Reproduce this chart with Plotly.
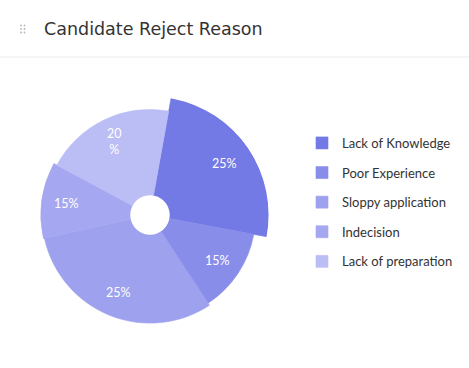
import math
import plotly.graph_objects as go

# ---- data ----
categories = ["Lack of Knowledge", "Poor Experience", "Sloppy application",
              "Indecision", "Lack of preparation"]
slice_share = [25.1, 12.8, 30.8, 11.3, 20.0]      # share of the circle (angle)
slice_radius = [99, 86, 88.5, 89.5, 86]            # radial length of each slice
label_text = ["25%", "15%", "25%", "15%", "20<br>%"]
colors = ["#7379E5", "#898DEA", "#9DA1EE", "#A5A8F0", "#BBBDF5"]

# ---- layout constants ----
W, H = 469, 368
START = 10.2          # start angle, degrees clockwise from 12 o'clock
CX, CY = 150, 215     # chart centre (px)
R_OUT = 118.6         # outer radius of the longest slice (px)
HOLE_PX = 19.7        # hole radius (px)

total = sum(slice_share)
widths = [s / total * 360 for s in slice_share]
thetas = []
acc = START
for w in widths:
    thetas.append(acc + w / 2)
    acc += w
rmax = max(slice_radius)

fig = go.Figure()
for i, name in enumerate(categories):
    fig.add_trace(go.Barpolar(
        r=[slice_radius[i]], theta=[thetas[i]], width=[widths[i]],
        name=name, legendgroup=str(i),
        marker=dict(color=colors[i], line=dict(width=0.6, color=colors[i])),
        hovertemplate=name + ": " + label_text[i].replace("<br>", "") + "<extra></extra>",
    ))

# slice labels
scale = (R_OUT - HOLE_PX) / rmax
annotations = []
for i in range(len(categories)):
    rp = HOLE_PX + 0.72 * slice_radius[i] * scale
    a = math.radians(thetas[i])
    xp = CX + rp * math.sin(a)
    yp = CY - rp * math.cos(a)
    annotations.append(dict(
        x=xp / W, y=1 - yp / H, xref="paper", yref="paper",
        text=label_text[i], showarrow=False,
        font=dict(family="Lato, sans-serif", size=12.5, color="white"),
        xanchor="center", yanchor="middle",
    ))

# title
annotations.append(dict(
    x=42 / W, y=1 - 29 / H, xref="paper", yref="paper",
    text="Candidate Reject Reason", showarrow=False,
    font=dict(family="DejaVu Sans, sans-serif", size=17.5, color="#333333"),
    xanchor="left", yanchor="middle",
))

shapes = [dict(type="line", xref="paper", yref="paper",
               x0=0, x1=1, y0=1 - 57 / H, y1=1 - 57 / H,
               line=dict(color="#ECECEC", width=1))]
for dx in (21, 24.5):
    for dy in (25.5, 29, 32.5):
        shapes.append(dict(type="circle", xref="paper", yref="paper",
                           x0=(dx - 0.9) / W, x1=(dx + 0.9) / W,
                           y0=1 - (dy + 0.9) / H, y1=1 - (dy - 0.9) / H,
                           fillcolor="#B5B5B5", line=dict(width=0)))

fig.update_layout(
    width=W, height=H,
    margin=dict(l=0, r=0, t=0, b=0),
    paper_bgcolor="white", plot_bgcolor="white",
    polar=dict(
        domain=dict(x=[(CX - R_OUT) / W, (CX + R_OUT) / W],
                    y=[1 - (CY + R_OUT) / H, 1 - (CY - R_OUT) / H]),
        hole=HOLE_PX / R_OUT,
        bargap=0,
        bgcolor="rgba(0,0,0,0)",
        angularaxis=dict(rotation=90, direction="clockwise", visible=False),
        radialaxis=dict(range=[0, rmax], visible=False),
    ),
    showlegend=True,
    legend=dict(x=302 / W, y=1 - 128 / H, xanchor="left", yanchor="top",
                traceorder="grouped", tracegroupgap=9.7,
                font=dict(family="Lato, sans-serif", size=13, color="#333333"),
                bgcolor="rgba(0,0,0,0)"),
    annotations=annotations,
    shapes=shapes,
)

fig.write_html("out.html", config={"displayModeBar": False},
               post_script="document.body.style.margin='0';")
